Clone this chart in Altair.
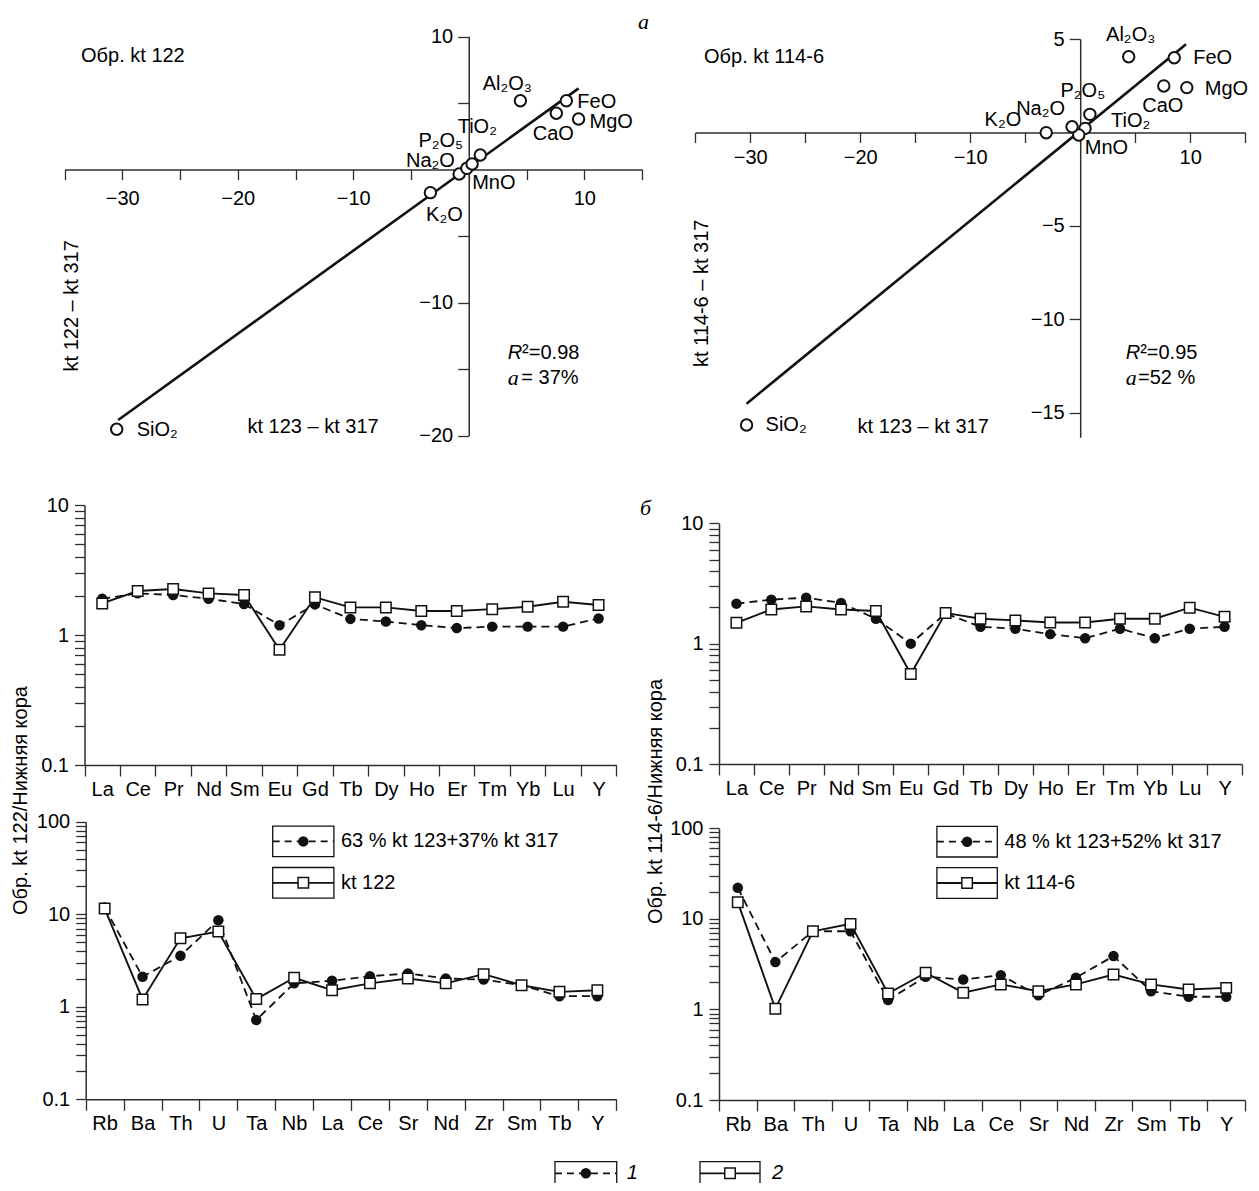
import altair as alt
import pandas as pd

# ---------------- data ----------------
oxides = ["SiO₂", "TiO₂", "Al₂O₃", "FeO", "MnO", "MgO", "CaO", "Na₂O", "K₂O", "P₂O₅"]
# panel a, left: x = kt 123 – kt 317, y = kt 122 – kt 317
a1_x = [-30.48, 1.00, 4.47, 8.45, -0.83, 9.51, 7.58, -0.16, -3.32, 0.29]
a1_y = [-19.53, 1.09, 5.17, 5.17, -0.34, 3.80, 4.23, 0.09, -1.74, 0.41]
# panel a, right: x = kt 123 – kt 317, y = kt 114-6 – kt 317
a2_x = [-30.33, 0.44, 4.41, 8.55, -0.13, 9.69, 7.60, -0.74, -3.09, 0.88]
a2_y = [-15.64, 0.22, 4.05, 4.00, -0.13, 2.40, 2.49, 0.31, -0.01, 0.97]
# regression lines (end points)
fit1_x = [-30.35, 9.51]
fit1_y = [-18.83, 6.10]
fit2_x = [-30.33, 9.62]
fit2_y = [-14.50, 4.72]

ree = ["La", "Ce", "Pr", "Nd", "Sm", "Eu", "Gd", "Tb", "Dy", "Ho", "Er", "Tm", "Yb", "Lu", "Y"]
ree_kt122 = [1.75, 2.18, 2.26, 2.09, 2.03, 0.77, 1.95, 1.63, 1.63, 1.53, 1.53, 1.58, 1.65, 1.80, 1.70]
ree_mix1 = [1.90, 2.09, 2.03, 1.90, 1.73, 1.19, 1.72, 1.33, 1.27, 1.19, 1.13, 1.16, 1.16, 1.16, 1.34]
ree_kt114 = [1.49, 1.92, 2.04, 1.92, 1.87, 0.56, 1.80, 1.61, 1.56, 1.50, 1.50, 1.61, 1.61, 1.99, 1.67]
ree_mix2 = [2.15, 2.32, 2.41, 2.18, 1.61, 1.00, 1.78, 1.38, 1.33, 1.20, 1.11, 1.33, 1.11, 1.33, 1.38]

trace = ["Rb", "Ba", "Th", "U", "Ta", "Nb", "La", "Ce", "Sr", "Nd", "Zr", "Sm", "Tb", "Y"]
tr_kt122 = [11.5, 1.20, 5.5, 6.5, 1.21, 2.06, 1.51, 1.79, 2.02, 1.79, 2.25, 1.71, 1.45, 1.51]
tr_mix1 = [11.8, 2.11, 3.56, 8.6, 0.72, 1.79, 1.91, 2.14, 2.29, 2.02, 1.97, 1.71, 1.30, 1.30]
tr_kt114 = [15.3, 1.02, 7.3, 8.8, 1.50, 2.54, 1.53, 1.89, 1.59, 1.89, 2.43, 1.89, 1.66, 1.73]
tr_mix2 = [22.0, 3.33, 7.3, 7.3, 1.27, 2.30, 2.14, 2.39, 1.43, 2.24, 3.88, 1.59, 1.38, 1.38]

# tick values
xticks_a = [-35, -30, -25, -20, -15, -10, -5, 0, 5, 10, 15]
yticks_a1 = [10, 5, 0, -5, -10, -15, -20]
yticks_a2 = [5, 0, -5, -10, -15]
log_ticks_ree = [0.1, 0.2, 0.3, 0.4, 0.5, 0.6, 0.7, 0.8, 0.9, 1, 2, 3, 4, 5, 6, 7, 8, 9, 10]
log_ticks_tr = log_ticks_ree + [20, 30, 40, 50, 60, 70, 80, 90, 100]

# ---------------- layout ----------------
W, H, M = 1243, 1175, 8
FONT = "Liberation Sans"
SERIF = "Liberation Serif"
AX = "#2e2e2e"
FS = 20


def ip(p):
    return p - M


def lin_pos(v, dom, rng):
    return rng[0] + (v - dom[0]) / (dom[1] - dom[0]) * (rng[1] - rng[0])


LOG_LABELS = ("datum.value == 0.1 || datum.value == 1 || datum.value == 10 || datum.value == 100"
              " ? format(datum.value, '~g') : ''")

# label offsets for oxide names (dx, dy, align)
off1 = {"SiO₂": (20, 1, "left"), "TiO₂": (-3, -28, "center"), "Al₂O₃": (-13, -17, "center"),
        "FeO": (11, 1, "left"), "MnO": (13, 9, "left"), "MgO": (11, 3, "left"),
        "CaO": (-3, 21, "center"), "Na₂O": (-12, -7, "right"), "K₂O": (14, 22, "center"),
        "P₂O₅": (-9, -23, "right")}
off2 = {"SiO₂": (19, 0, "left"), "TiO₂": (26, -7, "left"), "Al₂O₃": (2, -22, "center"),
        "FeO": (19, 0, "left"), "MnO": (6, 13, "left"), "MgO": (18, 1, "left"),
        "CaO": (-1, 20, "center"), "Na₂O": (-7, -18, "right"), "K₂O": (-25, -13, "right"),
        "P₂O₅": (-7, -23, "center")}


def scatter_panel(xs, ys, fx, fy, xr, yr, xdom, ydom, yticks, ylabexpr, offsets, notes, xpad):
    sx = alt.Scale(domain=xdom, range=xr, nice=False, zero=False)
    sy = alt.Scale(domain=ydom, range=yr, nice=False, zero=False)
    x0 = lin_pos(0, xdom, xr)
    y0 = lin_pos(0, ydom, yr)
    xaxis = alt.Axis(orient="bottom", offset=y0 - H, values=xticks_a, title=None,
                     labelExpr="datum.value % 10 == 0 && datum.value != 0 ? format(datum.value, 'd') : ''",
                     tickSize=10, labelPadding=xpad, labelFlush=False, labelOverlap=False, labelBound=False)
    yaxis = alt.Axis(orient="left", offset=-x0, values=yticks, title=None, labelExpr=ylabexpr,
                     tickSize=11, labelPadding=5, labelOverlap=False, labelBound=False)
    df = pd.DataFrame({"x": xs, "y": ys, "lab": oxides})
    base = alt.Chart(df)
    fit = alt.Chart(pd.DataFrame({"x": fx, "y": fy})).mark_line(color="#111111", strokeWidth=2.6).encode(
        x=alt.X("x:Q", scale=sx, axis=xaxis), y=alt.Y("y:Q", scale=sy, axis=yaxis))
    pts = base.mark_point(shape="circle", filled=True, fill="white", stroke="#111111", strokeWidth=2,
                          size=130, opacity=1).encode(
        x=alt.X("x:Q", scale=sx, axis=None), y=alt.Y("y:Q", scale=sy, axis=None))
    layers = [fit, pts]
    for lab in oxides:
        dx, dy, al = offsets[lab]
        layers.append(base.transform_filter(alt.datum.lab == lab).mark_text(
            dx=dx, dy=dy, align=al, baseline="middle", font=FONT, fontSize=FS, color="black").encode(
            x=alt.X("x:Q", scale=sx, axis=None), y=alt.Y("y:Q", scale=sy, axis=None), text="lab:N"))
    for txt, nx, ny, props in notes:
        nd = pd.DataFrame({"x": [nx], "y": [ny], "t": [txt]})
        kw = dict(align="left", baseline="middle", font=FONT, fontSize=FS, color="black")
        kw.update(props)
        layers.append(alt.Chart(nd).mark_text(**kw).encode(
            x=alt.X("x:Q", scale=sx, axis=None), y=alt.Y("y:Q", scale=sy, axis=None), text="t:N"))
    return layers


def spider_panel(cats, kt, mix, xr, yr, ydom, yvals, ytitle=None, title_xy=None):
    df = pd.DataFrame({"el": cats, "kt": kt, "mix": mix, "i": list(range(len(cats)))})
    sx = alt.Scale(type="band", domain=cats, range=xr, paddingInner=0, paddingOuter=0)
    sy = alt.Scale(type="log", domain=ydom, range=yr, nice=False)
    xaxis = alt.Axis(orient="bottom", offset=yr[0] - H, tickBand="extent", labelAngle=0, title=None,
                     tickSize=11, labelPadding=3, labelOverlap=False, labelBound=False, labelFlush=False)
    yargs = dict(orient="left", offset=-xr[0], values=yvals, labelExpr=LOG_LABELS,
                 tickSize=10, labelPadding=6, labelOverlap=False, labelBound=False, labelFlush=False)
    if ytitle:
        yargs.update(title=ytitle, titleX=title_xy[0] - xr[0], titleY=title_xy[1], titleAngle=270,
                     titleAlign="center", titleBaseline="middle", titleFont=FONT, titleFontSize=FS,
                     titleFontWeight="normal", titleColor="black")
    else:
        yargs.update(title=None)
    yaxis = alt.Axis(**yargs)
    base = alt.Chart(df)
    X = alt.X("el:N", scale=sx, axis=xaxis)
    Xn = alt.X("el:N", scale=sx, axis=None)
    dash = base.mark_line(color="#111111", strokeWidth=1.8, strokeDash=[8, 5]).encode(
        x=X, y=alt.Y("mix:Q", scale=sy, axis=yaxis), order="i:Q")
    solid = base.mark_line(color="#111111", strokeWidth=1.9).encode(
        x=Xn, y=alt.Y("kt:Q", scale=sy, axis=None), order="i:Q")
    circ = base.mark_point(shape="circle", filled=True, color="#111111", size=110, opacity=1).encode(
        x=Xn, y=alt.Y("mix:Q", scale=sy, axis=None))
    sq = base.mark_point(shape="square", filled=True, fill="white", stroke="#111111", strokeWidth=1.5,
                         size=110, opacity=1).encode(x=Xn, y=alt.Y("kt:Q", scale=sy, axis=None))
    return [dash, solid, circ, sq]


def legend_key(x0, x1, yc, hh, dashed, shape, label, label_dx, italic=False):
    base = alt.Chart(pd.DataFrame({"t": [label]}))
    box = base.mark_rect(fill="white", fillOpacity=0, stroke="#111111", strokeWidth=1.3).encode(
        x=alt.value(x0), x2=alt.value(x1), y=alt.value(yc - hh), y2=alt.value(yc + hh))
    lkw = dict(color="#111111", strokeWidth=1.8)
    if dashed:
        lkw["strokeDash"] = [7, 5]
    line = base.mark_rule(**lkw).encode(x=alt.value(x0), x2=alt.value(x1), y=alt.value(yc))
    if shape == "circle":
        sym = base.mark_point(shape="circle", filled=True, color="#111111", size=110, opacity=1)
    else:
        sym = base.mark_point(shape="square", filled=True, fill="white", stroke="#111111",
                              strokeWidth=1.5, size=110, opacity=1)
    sym = sym.encode(x=alt.value((x0 + x1) / 2), y=alt.value(yc))
    tkw = dict(align="left", baseline="middle", font=FONT, fontSize=FS, color="black")
    if italic:
        tkw["fontStyle"] = "italic"
    txt = base.mark_text(**tkw).encode(x=alt.value(x1 + label_dx), y=alt.value(yc), text="t:N")
    return [box, line, sym, txt]


# ---------------- panels ----------------
ital = {"fontStyle": "italic"}
serif_it = {"font": SERIF, "fontStyle": "italic", "fontSize": 22}
rot = {"angle": 270, "align": "center"}

S1 = scatter_panel(
    a1_x, a1_y, fit1_x, fit1_y,
    xr=[ip(64.5), ip(642.0)], yr=[ip(435.5), ip(36.5)], xdom=[-35, 15], ydom=[-20, 10],
    yticks=yticks_a1, ylabexpr="datum.value % 10 == 0 && datum.value != 0 ? format(datum.value, 'd') : ''",
    offsets=off1, xpad=9,
    notes=[("Обр. kt 122", -33.57, 8.53, {}),
           ("kt 123 – kt 317", -19.16, -19.38, {}),
           ("kt 122 – kt 317", -34.32, -10.25, rot),
           ("R", 3.37, -13.82, ital),
           ("²=0.98", 4.62, -13.82, {}),
           ("a", 3.37, -15.70, serif_it),
           ("= 37%", 4.55, -15.70, {}),
           ("а", 14.65, 11.1, serif_it),
           ("б", 14.83, -25.45, serif_it)])

S2 = scatter_panel(
    a2_x, a2_y, fit2_x, fit2_y,
    xr=[ip(695.2), ip(1245.2)], yr=[ip(437.3), ip(39.0)], xdom=[-35, 15], ydom=[-16.3, 5],
    yticks=yticks_a2, ylabexpr="datum.value != 0 ? format(datum.value, 'd') : ''",
    offsets=off2, xpad=5,
    notes=[("Обр. kt 114-6", -34.2, 4.05, {}),
           ("kt 123 – kt 317", -20.24, -15.73, {}),
           ("kt 114-6 – kt 317", -34.36, -8.6, rot),
           ("R", 4.14, -11.81, ital),
           ("²=0.95", 5.45, -11.81, {}),
           ("a", 4.14, -13.14, serif_it),
           ("=52 %", 5.25, -13.14, {})])

R1 = spider_panel(ree, ree_kt122, ree_mix1, xr=[ip(84.5), ip(616.3)], yr=[ip(765), ip(505)],
                  ydom=[0.1, 10], yvals=log_ticks_ree,
                  ytitle="Обр. kt 122/Нижняя кора", title_xy=(ip(20), ip(800)))
R2 = spider_panel(ree, ree_kt114, ree_mix2, xr=[ip(719), ip(1242)], yr=[ip(764), ip(523.3)],
                  ydom=[0.1, 10], yvals=log_ticks_ree,
                  ytitle="Обр. kt 114-6/Нижняя кора", title_xy=(ip(655), ip(801)))
T1 = spider_panel(trace, tr_kt122, tr_mix1, xr=[ip(85.7), ip(616.3)], yr=[ip(1099.3), ip(821.7)],
                  ydom=[0.1, 100], yvals=log_ticks_tr)
T2 = spider_panel(trace, tr_kt114, tr_mix2, xr=[ip(719), ip(1245)], yr=[ip(1100), ip(828.3)],
                  ydom=[0.1, 100], yvals=log_ticks_tr)

legend_layers = []
legend_layers += legend_key(ip(272.7), ip(333.9), ip(841.4), 15.3, True, "circle", "63 % kt 123+37% kt 317", 7)
legend_layers += legend_key(ip(272.7), ip(333.9), ip(882.8), 15.3, False, "square", "kt 122", 7)
legend_layers += legend_key(ip(936.9), ip(997.3), ip(841.7), 15.3, True, "circle", "48 % kt 123+52% kt 317", 7)
legend_layers += legend_key(ip(936.9), ip(997.3), ip(883.0), 15.3, False, "square", "kt 114-6", 7)
legend_layers += legend_key(ip(555), ip(616.7), ip(1173.3), 11.6, True, "circle", "1", 10, italic=True)
legend_layers += legend_key(ip(700), ip(760), ip(1173.3), 11.6, False, "square", "2", 12, italic=True)

all_layers = S1 + S2 + R1 + R2 + T1 + T2 + legend_layers

chart = alt.layer(*all_layers).resolve_scale(
    x="independent", y="independent").resolve_axis(
    x="independent", y="independent").properties(
    width=W, height=H, padding=0, autosize=alt.AutoSizeParams(type="none")).configure_view(
    stroke=None).configure_axis(
    labelFont=FONT, labelFontSize=FS, labelColor="black", domainColor=AX, tickColor=AX,
    domainWidth=1.5, tickWidth=1.3, grid=False)

chart.save("out.html", embed_options={"renderer": "svg", "actions": False})
